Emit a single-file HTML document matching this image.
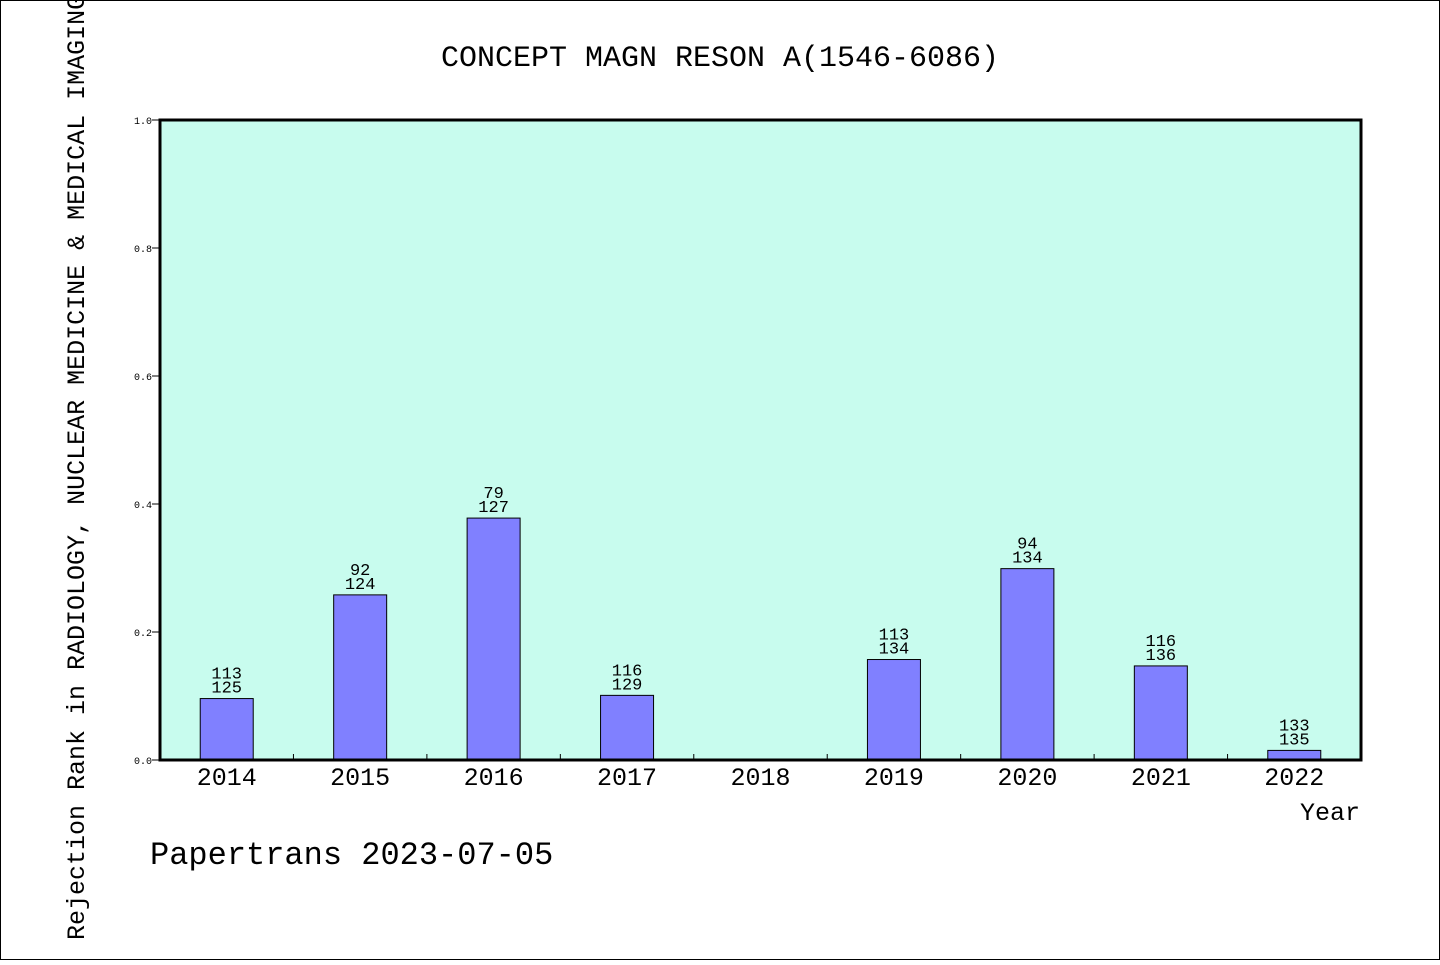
<!DOCTYPE html>
<html><head><meta charset="utf-8"><style>
html,body{margin:0;padding:0;background:#fff}
svg text{font-family:"Liberation Mono","WenQuanYi Zen Hei",monospace;fill:#000}
</style></head><body>
<svg width="1440" height="960" xmlns="http://www.w3.org/2000/svg">
<rect x="0.5" y="0.5" width="1439" height="959" fill="#fff" stroke="#000"/>
<text x="720" y="66" font-size="30" text-anchor="middle">CONCEPT MAGN RESON A(1546-6086)</text>
<rect x="160" y="120" width="1201" height="640" fill="#c8fcee"/>
<g id="yaxis"></g>
<g id="bars"></g>
<rect x="160" y="120" width="1201" height="640" fill="none" stroke="#000" stroke-width="3"/>
<g id="xaxis"></g>
<text x="1360" y="820" font-size="25" text-anchor="end">Year</text>
<text x="150" y="864" font-size="32">Papertrans 2023-07-05</text>
<text transform="translate(84,940) rotate(-90)" font-size="25">Rejection Rank in RADIOLOGY, NUCLEAR MEDICINE &amp; MEDICAL IMAGING</text>
</svg>
<script>
const categories=["2014","2015","2016","2017","2018","2019","2020","2021","2022"];
const values=[0.096,0.258,0.378,0.101,null,0.157,0.299,0.147,0.015];
const topLabels=["113","92","79","116","","113","94","116","133"];
const bottomLabels=["125","124","127","129","","134","134","136","135"];
const yTicks=[0,0.2,0.4,0.6,0.8,1.0];
const NS="http://www.w3.org/2000/svg";
const X0=160,X1=1361,Y0=760,Y1=120;
const slot=(X1-X0)/categories.length;
const xc=i=>X0+slot*(i+0.5);
const y=v=>Y0-(Y0-Y1)*v;
function mk(t,a,p){const e=document.createElementNS(NS,t);for(const k in a)e.setAttribute(k,a[k]);p.appendChild(e);return e;}
const ya=document.getElementById('yaxis'),xa=document.getElementById('xaxis'),bg=document.getElementById('bars');
yTicks.forEach(v=>{
 const l=mk('line',{x1:X0-8,x2:X0,y1:y(v),y2:y(v),stroke:'#000','stroke-width':1},ya);
 
 
 const t=mk('text',{x:X0-8,y:y(v)+4,'font-size':10,'text-anchor':'end'},ya);
 t.textContent=v.toFixed(1);
 
 
});
categories.forEach((c,i)=>{
 if(i>0){const tk=mk('line',{x1:X0+slot*i,x2:X0+slot*i,y1:Y0,y2:Y0-6,stroke:'#000','stroke-width':1},xa);
 
 }
 const t=mk('text',{x:xc(i),y:785,'font-size':25,'text-anchor':'middle'},xa);
 t.textContent=c;
 
 
 const v=values[i];
 if(v==null)return;
 const r=mk('rect',{x:xc(i)-26.5,y:y(v),width:53,height:Y0-y(v),fill:'#8080ff',stroke:'#000','stroke-width':1},bg);
 
 
 const t1=mk('text',{x:xc(i),y:y(v)-20,'font-size':17,'text-anchor':'middle'},bg);
 t1.textContent=topLabels[i];
 
 
 const t2=mk('text',{x:xc(i),y:y(v)-6,'font-size':17,'text-anchor':'middle'},bg);
 t2.textContent=bottomLabels[i];
 
 
});
</script>
</body></html>
